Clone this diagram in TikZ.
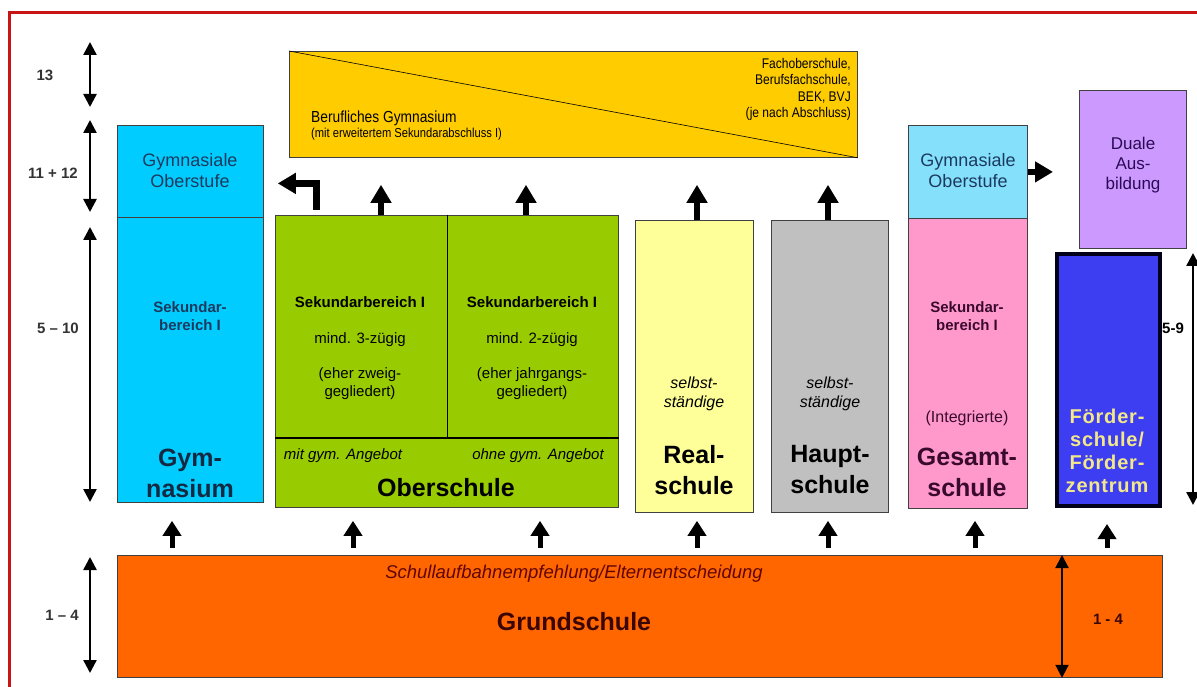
\documentclass[tikz,border=0pt]{standalone}
\usepackage{fontspec}
\setmainfont{Liberation Sans}
\newfontfamily\narrowfont{Liberation Sans}[FakeStretch=0.86]
\newfontfamily\spacedfont{Liberation Sans}[LetterSpace=4]
\usetikzlibrary{arrows.meta}

\definecolor{gymcyan}{HTML}{00CCFF}
\definecolor{oberstcyan}{HTML}{85E0FC}
\definecolor{obergreen}{HTML}{99CC00}
\definecolor{realyellow}{HTML}{FFFF99}
\definecolor{hauptgray}{HTML}{C0C0C0}
\definecolor{gesamtpink}{HTML}{FF99CC}
\definecolor{dualeviolet}{HTML}{CC99FF}
\definecolor{foerderblue}{HTML}{3D3DF2}
\definecolor{foerdertext}{HTML}{F2E88A}
\definecolor{berufgold}{HTML}{FFCC00}
\definecolor{grundorange}{HTML}{FF6600}
\definecolor{framered}{HTML}{C81414}
\definecolor{gymtext}{HTML}{1C3A5E}
\definecolor{gesamttext}{HTML}{3A0A2E}
\definecolor{grundtext}{HTML}{3A0505}
\definecolor{dualetext}{HTML}{2A0A55}

\begin{document}
\begin{tikzpicture}[x=1pt,y=-1pt,
    box/.style={draw=black!75,line width=0.8pt,anchor=north west,inner sep=0pt},
    years/.style={line width=2.5pt,{Triangle[width=13pt,length=13pt]}-{Triangle[width=13pt,length=13pt]}},
    fat arrow/.style={line width=6pt,-{Triangle[width=20pt,length=18pt]}},
    small arrow/.style={line width=5pt,-{Triangle[width=18pt,length=15pt]}},
    yearlbl/.style={font=\bfseries\fontsize{15}{18}\selectfont,text=black!80,inner sep=0pt},
    big/.style={font=\bfseries\fontsize{25}{31}\selectfont,align=center,inner sep=0pt},
    mid/.style={font=\fontsize{15}{18}\selectfont,align=center,inner sep=0pt},
    midb/.style={font=\bfseries\fontsize{15}{18}\selectfont,align=center,inner sep=0pt},
    midi/.style={font=\itshape\fontsize{15}{18}\selectfont,align=center,inner sep=0pt},
    ober/.style={font=\fontsize{18}{21}\selectfont,align=center,inner sep=0pt}]

\clip (0,0) rectangle (1197,687);
\draw[framered,line width=3pt] (9,700) -- (9,13) -- (1210,13);

% school types
\node[box,fill=gymcyan,minimum width=146,minimum height=92] (gymob) at (117,125) {};
\node[box,fill=gymcyan,minimum width=146,minimum height=285] (gym) at (117,217) {};
\node[box,fill=obergreen,minimum width=343,minimum height=292] (ober) at (275,215) {};
\node[box,fill=realyellow,minimum width=118,minimum height=292] (real) at (635,220) {};
\node[box,fill=hauptgray,minimum width=117,minimum height=292] (haupt) at (771,220) {};
\node[box,fill=oberstcyan,minimum width=119,minimum height=93] (gesob) at (908,125) {};
\node[box,fill=gesamtpink,minimum width=119,minimum height=290] (gesamt) at (908,218) {};
\node[box,fill=dualeviolet,minimum width=107,minimum height=158] (duale) at (1079,90) {};
\node[box,fill=foerderblue,draw=black!90!blue,line width=4pt,minimum width=103,minimum height=252] (foerder) at (1055,252) {};
\node[box,fill=berufgold,minimum width=568,minimum height=106] (beruf) at (289,51) {};
\node[box,fill=grundorange,minimum width=1045,minimum height=122] (grund) at (117,555) {};

\draw[line width=0.6pt] (beruf.north west) -- (beruf.south east);
\draw[line width=0.8pt] (ober.north) -- (ober.north |- 0,438);
\draw[line width=2pt] (ober.west |- 0,438) -- (ober.east |- 0,438);

% texts
\node[ober,text=gymtext] (gymobt) at (190,171) {Gymnasiale\\Oberstufe};
\node[midb,text=gymtext] (gymsek) at (190,316) {Sekundar-\\bereich I};
\node[big,text=gymtext!70!black] (gymname) at (190,473) {Gym-\\nasium};

\node[midb] (sekl) at (360,302) {Sekundarbereich I};
\node[mid] (zuegl) at (360,340) {mind. 3-zügig};
\node[mid] (gliedl) at (360,384) {(eher zweig-\\gegliedert)};
\node[midb] (sekr) at (532,302) {Sekundarbereich I};
\node[mid] (zuegr) at (532,340) {mind. 2-zügig};
\node[mid] (gliedr) at (532,384) {(eher jahrgangs-\\gegliedert)};
\node[midi] (mitgym) at (343,456) {mit gym. Angebot};
\node[midi] (ohnegym) at (538,456) {ohne gym. Angebot};
\node[big] (obername) at (446,488) {Oberschule};

\node[midi,font=\itshape\fontsize{16}{19}\selectfont] (realsel) at (694,394) {selbst-\\ständige};
\node[big] (realname) at (694,470) {Real-\\schule};
\node[midi,font=\itshape\fontsize{16}{19}\selectfont] (hauptsel) at (830,394) {selbst-\\ständige};
\node[big] (hauptname) at (830,470) {Haupt-\\schule};

\node[ober,text=gymtext] (gesobt) at (968,171) {Gymnasiale\\Oberstufe};
\node[midb,text=gesamttext] (gessek) at (967,316) {Sekundar-\\bereich I};
\node[mid,font=\fontsize{16}{19}\selectfont,text=gesamttext] (integ) at (967,418) {(Integrierte)};
\node[big,text=gesamttext] (gesname) at (967,472) {Gesamt-\\schule};

\node[ober,font=\fontsize{17}{20}\selectfont,text=dualetext] (dualet) at (1133,165) {Duale\\Aus-\\bildung};
\node[big,font=\bfseries\spacedfont\fontsize{20}{23}\selectfont,text=foerdertext] (foerdert) at (1107,451) {Förder-\\schule/\\Förder-\\zentrum};

\node[inner sep=0pt,anchor=west,align=left,font=\narrowfont\fontsize{16}{18}\selectfont] (berufgym) at (311,118) {Berufliches Gymnasium};
\node[inner sep=0pt,anchor=west,align=left,font=\narrowfont\fontsize{13}{15}\selectfont] (berufsek) at (311,134) {(mit erweitertem Sekundarabschluss I)};
\node[inner sep=0pt,anchor=north east,align=right,font=\narrowfont\fontsize{14}{16.5}\selectfont] (fach) at (851,58) {Fachoberschule,\\Berufsfachschule,\\BEK, BVJ\\(je nach Abschluss)};

\node[inner sep=0pt,font=\itshape\fontsize{18.5}{21}\selectfont,text=grundtext!80!red] (empf) at (574,574) {Schullaufbahnempfehlung/Elternentscheidung};
\node[big,text=grundtext] (grundname) at (574,622) {Grundschule};
\node[yearlbl,text=grundtext] (lgrund) at (1108,619) {1 - 4};

% year ranges
\node[yearlbl] (l13) at (45,75) {13};
\node[yearlbl] (l1112) at (53,173) {11 + 12};
\node[yearlbl] (l510) at (58,328) {5 -- 10};
\node[yearlbl] (l14) at (62,615) {1 -- 4};
\node[yearlbl,text=black] (l59) at (1173,328) {5-9};

\foreach \n/\x/\a/\b in {13/90/42/107, 1112/90/120/212, 510/90/227/502, 14/90/557/673, 59/1193/253/505} {
  \coordinate (top\n) at (\x,\a);
  \coordinate (bot\n) at (\x,\b);
  \draw[years] (top\n) -- (bot\n);
}
\draw[years,line width=2pt] (grund.north -| 1062,0) -- (grund.south -| 1062,0);

% transitions
\foreach \x/\n/\s in {172/gym/18, 353/ober/13, 540/ober/13, 697/real/8, 828/haupt/8, 975/gesamt/12, 1107/foerder/16}
  \draw[small arrow,shorten <=7pt,shorten >=\s pt] (grund.north -| \x,0) -- (\n.south -| \x,0);

\foreach \x/\n in {381/ober, 526/ober, 697/real, 828/haupt}
  \draw[fat arrow,shorten >=27pt] (\n.north -| \x,0) -- (beruf.south -| \x,0);

\draw[fat arrow,line width=7pt,shorten <=5pt,shorten >=14pt] (ober.north -| 316,0) |- ([yshift=-12pt]gymob.east);
\draw[fat arrow,shorten >=26pt] (gesob.east) -- (duale.west |- gesob.east);

\end{tikzpicture}
\end{document}
